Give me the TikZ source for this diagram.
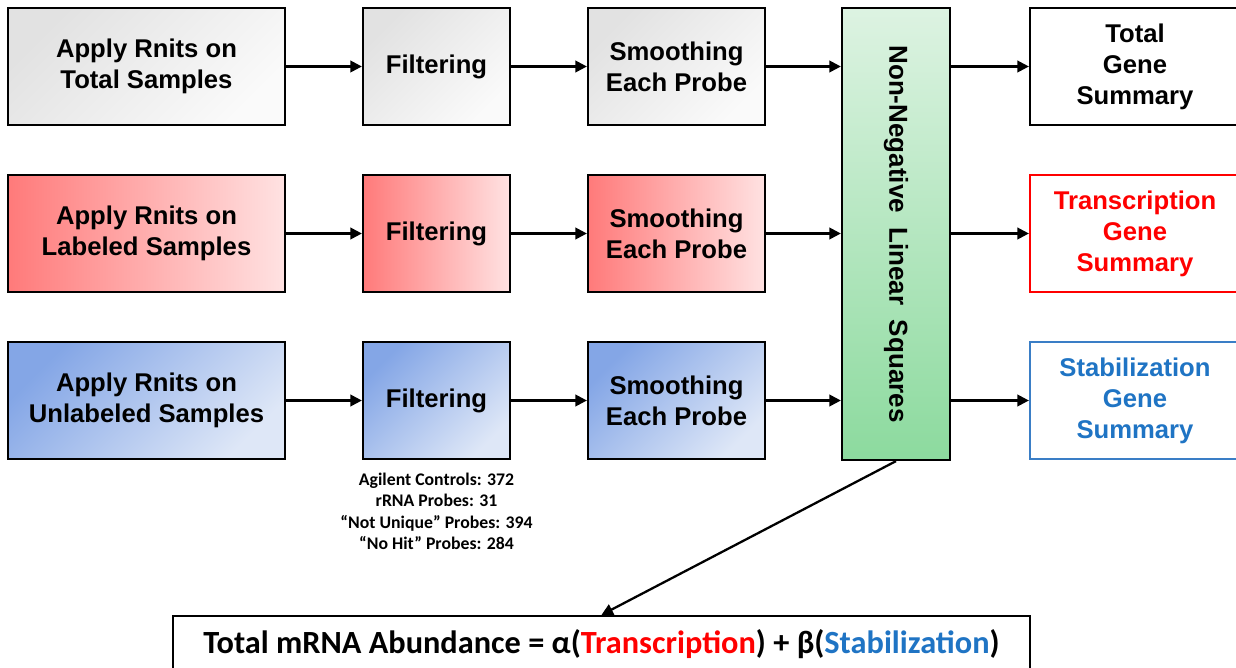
\documentclass[tikz,border=0pt]{standalone}
\usepackage{fontspec}
\setmainfont{Liberation Sans}
\newfontfamily\notefont[Ligatures=TeX]{Carlito}
\usetikzlibrary{arrows.meta,positioning}

\definecolor{grayA}{HTML}{E2E2E2}
\definecolor{grayB}{HTML}{FAFAFA}
\definecolor{redA}{HTML}{FF7A7A}
\definecolor{redB}{HTML}{FFE2E2}
\definecolor{blueA}{HTML}{84A6E6}
\definecolor{blueB}{HTML}{DEE7F7}
\definecolor{greenA}{HTML}{DDF3E2}
\definecolor{greenB}{HTML}{8CDA9E}
\definecolor{txtred}{HTML}{FF0000}
\definecolor{txtblue}{HTML}{1F74C4}
\definecolor{lineblue}{HTML}{3A7EC6}

\tikzset{
  box/.style={draw, line width=1.3pt, align=center, inner sep=0pt,
    minimum height=2.34cm, font=\bfseries\fontsize{14.6}{17.6}\selectfont},
  totalbox/.style={box, top color=grayA, bottom color=grayB, shading angle=45},
  labbox/.style={box, left color=redA, right color=redB},
  unlabbox/.style={box, top color=blueA, bottom color=blueB, shading angle=45},
  summary/.style={box, minimum width=4.2cm},
  flow/.style={-{Triangle[length=6.5pt,width=6.5pt]}, line width=1.3pt},
}

\begin{document}
\begin{tikzpicture}[x=0.02cm, y=-0.02cm]
  \useasboundingbox (0,0) rectangle (1236,668);

  \def \wa {5.54cm}
  \def \wf {2.94cm}
  \def \ws {3.54cm}

  % three input rows
  \node[totalbox, minimum width=\wa] (a1) at (146.5,66.5) {Apply Rnits on\\Total Samples};
  \node[totalbox, minimum width=\wf] (f1) at (436.5,66.5) {Filtering};
  \node[totalbox, minimum width=\ws] (s1) at (676.5,66.5) {Smoothing\\Each Probe};

  \node[labbox, minimum width=\wa] (a2) at (146.5,233.5) {Apply Rnits on\\Labeled Samples};
  \node[labbox, minimum width=\wf] (f2) at (436.5,233.5) {Filtering};
  \node[labbox, minimum width=\ws] (s2) at (676.5,233.5) {Smoothing\\Each Probe};

  \node[unlabbox, minimum width=\wa] (a3) at (146.5,400.5) {Apply Rnits on\\Unlabeled Samples};
  \node[unlabbox, minimum width=\wf] (f3) at (436.5,400.5) {Filtering};
  \node[unlabbox, minimum width=\ws] (s3) at (676.5,400.5) {Smoothing\\Each Probe};

  \node[below=7pt of f3, align=center, inner sep=0pt,
    font=\notefont\bfseries\fontsize{10.1}{12.2}\selectfont] (removed)
    {Agilent Controls: 372\\rRNA Probes: 31\\“Not Unique” Probes: 394\\“No Hit” Probes: 284};

  % least squares step
  \node[box, minimum width=2.16cm, minimum height=9.04cm,
    top color=greenA, bottom color=greenB] (nnls) at (896,234) {};
  \node[rotate=-90, font=\bfseries\fontsize{14.8}{17.6}\selectfont] (nnlstxt) at (nnls.center)
    {Non-Negative\ \ Linear\ \ Squares};

  % outputs
  \node[summary, fill=white] (o1) at (1135,66.5) {Total\\Gene\\Summary};
  \node[summary, draw=txtred, text=txtred, fill=white] (o2) at (1135,233.5) {Transcription\\Gene\\Summary};
  \node[summary, draw=lineblue, text=txtblue, fill=white] (o3) at (1135,400.5) {Stabilization\\Gene\\Summary};

  \node[draw, line width=1.3pt, fill=white, minimum width=17.14cm, minimum height=1.12cm,
    font=\notefont\bfseries\fontsize{18.4}{22}\selectfont] (model) at (601.5,644)
    {Total mRNA Abundance = α(\textcolor{txtred}{Transcription}) + β(\textcolor{txtblue}{Stabilization})};

  \foreach \i in {1,2,3} {
    \draw[flow] (a\i) -- (f\i);
    \draw[flow] (f\i) -- (s\i);
    \draw[flow] (s\i) -- (s\i -| nnls.west);
    \draw[flow] (o\i -| nnls.east) -- (o\i);
  }
  \draw[flow] (nnls.south) -- (model.north);
\end{tikzpicture}
\end{document}
